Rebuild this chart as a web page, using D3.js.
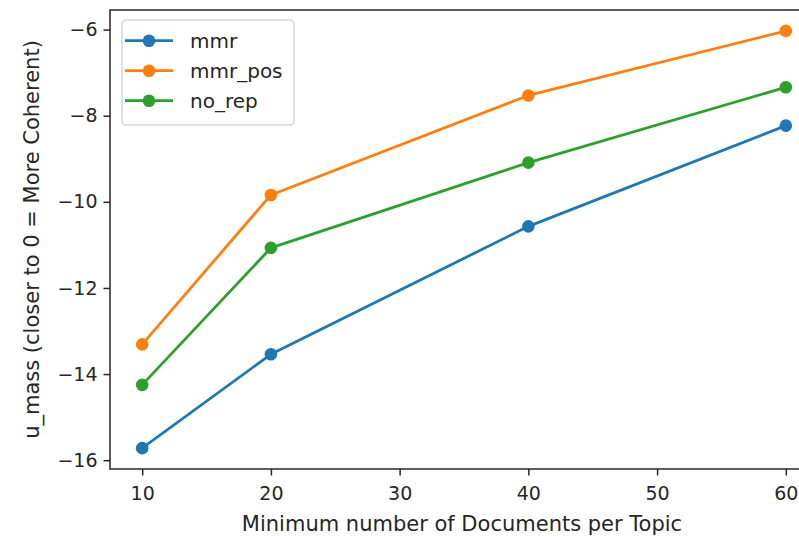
<!DOCTYPE html>
<html>
<head>
<meta charset="utf-8">
<script src="https://cdn.jsdelivr.net/npm/d3@7"></script>
<style>
  html, body { margin: 0; padding: 0; background: #fff; }
  svg { display: block; }
  text { font-family: "DejaVu Sans", sans-serif; fill: #262626; }
</style>
</head>
<body>
<svg id="chart" width="799" height="537"></svg>
<script>
const xValues = [10, 20, 40, 60];
const mmr = [-15.72, -13.54, -10.57, -8.23];
const mmrPos = [-13.31, -9.84, -7.53, -6.03];
const noRep = [-14.25, -11.07, -9.09, -7.34];
const seriesNames = ["mmr", "mmr_pos", "no_rep"];
const xTicks = [10, 20, 30, 40, 50, 60];
const yTicks = [-16, -14, -12, -10, -8, -6];
const xLabel = "Minimum number of Documents per Topic";
const yLabel = "u_mass (closer to 0 = More Coherent)";

(function () {
const colors = ["#1f77b4", "#ff7f0e", "#2ca02c"];
const series = [mmr, mmrPos, noRep].map((vals, i) => ({
  name: seriesNames[i], color: colors[i],
  points: vals.map((v, j) => ({ x: xValues[j], y: v }))
}));

const svg = d3.select("#chart");
const mL = 110, mR = 818, mT = 10, mB = 469;
const fsTick = 19, fsLegend = 20, fsLabel = 21;

// matplotlib-style 5% margins
const xmin = d3.min(xValues), xmax = d3.max(xValues);
const allY = [].concat(mmr, mmrPos, noRep);
const ymin = d3.min(allY), ymax = d3.max(allY);
const xm = (xmax - xmin) * 0.05, ym = (ymax - ymin) * 0.05;
const x = d3.scaleLinear().domain([xmin - xm, xmax + xm]).range([mL, mR]);
const y = d3.scaleLinear().domain([ymin - ym, ymax + ym]).range([mB, mT]);

const fmt = d => d3.format("d")(d).replace("-", "\u2212");

// axes
const xAxis = svg.append("g").attr("transform", `translate(0,${mB})`)
  .call(d3.axisBottom(x).tickValues(xTicks).tickFormat(fmt).tickSize(6.5).tickPadding(6));
const yAxis = svg.append("g").attr("transform", `translate(${mL},0)`)
  .call(d3.axisLeft(y).tickValues(yTicks).tickFormat(fmt).tickSize(6.5).tickPadding(6));
[xAxis, yAxis].forEach(g => {
  g.select(".domain").remove();
  g.selectAll(".tick line").attr("stroke", "#262626").attr("stroke-width", 1.5);
  g.selectAll(".tick text").attr("font-size", fsTick).attr("font-family", "DejaVu Sans").attr("fill", "#262626");
});
xAxis.selectAll(".tick text").attr("dy", "0.95em");

// lines & markers
const line = d3.line().x(d => x(d.x)).y(d => y(d.y));
series.forEach(s => {
  svg.append("path").datum(s.points).attr("d", line)
    .attr("fill", "none").attr("stroke", s.color).attr("stroke-width", 2.8)
    .attr("stroke-linejoin", "round").attr("stroke-linecap", "square");
  svg.append("g").selectAll("circle").data(s.points).join("circle")
    .attr("cx", d => x(d.x)).attr("cy", d => y(d.y)).attr("r", 6.3)
    .attr("fill", s.color);
});

// spines
svg.append("rect").attr("x", mL).attr("y", mT)
  .attr("width", mR - mL).attr("height", mB - mT)
  .attr("fill", "none").attr("stroke", "#262626").attr("stroke-width", 1.5);

// legend
const lg = svg.append("g");
lg.append("rect").attr("x", 122).attr("y", 20).attr("width", 172).attr("height", 105)
  .attr("rx", 4).attr("fill", "#fff").attr("fill-opacity", 0.8)
  .attr("stroke", "#d6d6d6").attr("stroke-width", 1.5);
series.forEach((s, i) => {
  const yy = 40.7 + i * 30;
  lg.append("line").attr("x1", 125).attr("x2", 173).attr("y1", yy).attr("y2", yy)
    .attr("stroke", s.color).attr("stroke-width", 2.8);
  lg.append("circle").attr("cx", 149).attr("cy", yy).attr("r", 6.3).attr("fill", s.color);
  lg.append("text").attr("x", 190).attr("y", yy).attr("dy", "0.35em")
    .attr("font-size", fsLegend).text(s.name);
});

// axis labels
svg.append("text").attr("x", (mL + mR) / 2 - 2).attr("y", 531)
  .attr("text-anchor", "middle").attr("font-size", fsLabel).text(xLabel);
svg.append("text").attr("transform", `translate(38.5,${(mT + mB) / 2}) rotate(-90)`)
  .attr("text-anchor", "middle").attr("font-size", fsLabel).text(yLabel);
})();
</script>
</body>
</html>
